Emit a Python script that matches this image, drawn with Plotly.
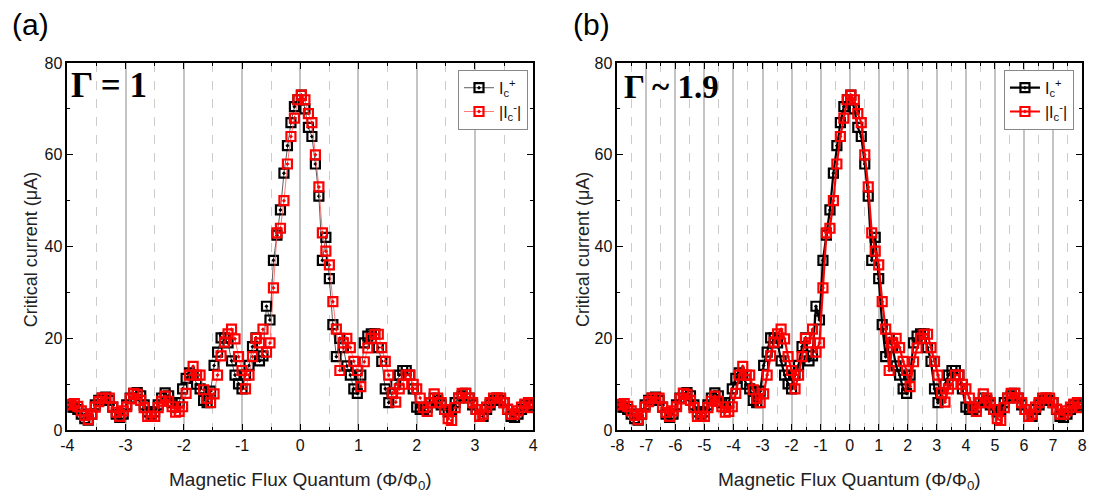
import plotly.graph_objects as go

# ---------------- data (panel a units, Phi/Phi0) ----------------
flux = [-4.00, -3.94, -3.88, -3.82, -3.76, -3.70, -3.64, -3.58, -3.52, -3.46,
        -3.40, -3.34, -3.28, -3.22, -3.16, -3.10, -3.04, -2.98, -2.92, -2.86,
        -2.80, -2.74, -2.68, -2.62, -2.56, -2.50, -2.44, -2.38, -2.32, -2.26,
        -2.20, -2.14, -2.08, -2.02, -1.96, -1.90, -1.84, -1.78, -1.72, -1.66,
        -1.60, -1.54, -1.48, -1.42, -1.36, -1.30, -1.24, -1.18, -1.12, -1.06,
        -1.00, -0.94, -0.88, -0.82, -0.76, -0.70, -0.64, -0.58, -0.52, -0.46,
        -0.40, -0.34, -0.28, -0.22, -0.16, -0.10, -0.04, 0.02, 0.08, 0.14,
        0.20, 0.26, 0.32, 0.38, 0.44, 0.50, 0.56, 0.62, 0.68, 0.74,
        0.80, 0.86, 0.92, 0.98, 1.04, 1.10, 1.16, 1.22, 1.28, 1.34,
        1.40, 1.46, 1.52, 1.58, 1.64, 1.70, 1.76, 1.82, 1.88, 1.94,
        2.00, 2.06, 2.12, 2.18, 2.24, 2.30, 2.36, 2.42, 2.48, 2.54,
        2.60, 2.66, 2.72, 2.78, 2.84, 2.90, 2.96, 3.02, 3.08, 3.14,
        3.20, 3.26, 3.32, 3.38, 3.44, 3.50, 3.56, 3.62, 3.68, 3.74,
        3.80, 3.86, 3.92, 3.98]

ic_plus = [5.0, 5.5, 5.0, 4.5, 3.5, 2.5, 2.2, 3.5, 5.5, 6.5,
           7.0, 7.2, 6.5, 5.0, 3.5, 2.8, 3.5, 5.5, 7.0, 8.0,
           8.2, 7.5, 5.5, 4.0, 3.5, 4.0, 5.5, 7.0, 8.1, 7.5,
           6.0, 5.0, 6.0, 9.0, 11.3, 12.5, 12.0, 10.0, 9.0, 6.5,
           6.0, 8.5, 14.1, 17.0, 20.1, 20.1, 19.0, 15.1, 12.0, 10.1,
           9.0, 12.0, 14.1, 18.2, 20.1, 15.1, 16.2, 27.0, 24.0, 37.0,
           42.5, 48.0, 56.0, 62.0, 67.0, 70.5, 72.0, 73.0, 70.0, 66.0,
           64.0, 58.0, 51.0, 37.0, 42.0, 33.0, 23.0, 16.0, 20.0, 18.0,
           14.0, 12.0, 9.0, 8.0, 12.0, 19.0, 20.5, 21.0, 21.0, 18.0,
           15.0, 9.0, 6.0, 8.0, 10.0, 12.0, 13.0, 13.0, 12.0, 9.0,
           5.0, 4.5, 4.5, 5.0, 6.0, 7.0, 6.5, 5.5, 4.5, 4.0,
           4.5, 6.0, 7.0, 7.5, 8.0, 7.0, 5.5, 4.5, 3.0, 3.0,
           4.5, 5.5, 6.5, 7.0, 6.5, 6.0, 4.5, 3.0, 2.8, 3.5,
           4.5, 5.5, 5.5, 5.0]

ic_minus_abs = [5.5, 5.6, 5.8, 5.2, 4.2, 3.2, 2.3, 3.5, 5.0, 6.2,
                7.0, 7.0, 7.0, 5.0, 3.9, 3.0, 4.2, 5.1, 6.8, 8.0,
                7.8, 6.5, 4.9, 3.0, 3.0, 3.0, 4.9, 6.3, 7.4, 6.3,
                5.1, 3.9, 4.1, 5.1, 8.0, 12.0, 13.9, 12.0, 12.0, 8.8,
                6.9, 6.0, 7.9, 12.0, 16.2, 19.2, 21.0, 22.0, 19.9, 16.0,
                13.0, 9.0, 12.0, 16.0, 20.0, 19.0, 22.0, 17.0, 19.0, 31.0,
                43.0, 44.0, 50.0, 58.0, 64.0, 68.0, 72.0, 73.0, 72.0, 69.0,
                67.0, 60.0, 53.0, 43.0, 39.0, 36.0, 28.0, 22.0, 13.0, 19.0,
                20.0, 18.0, 15.0, 13.0, 9.5, 14.9, 17.9, 20.0, 20.9, 20.9,
                18.0, 15.0, 12.0, 8.1, 6.1, 9.0, 10.0, 12.0, 12.0, 10.0,
                9.0, 7.0, 4.9, 4.1, 6.0, 7.9, 7.0, 6.0, 4.5, 2.5,
                2.1, 4.9, 7.0, 8.0, 8.0, 7.0, 6.0, 4.5, 3.0, 3.5,
                5.0, 6.0, 7.0, 7.0, 7.0, 6.0, 4.6, 3.5, 3.5, 4.2,
                5.0, 5.7, 6.0, 4.9]

# panel (b) uses the flux axis rescaled by the conversion factor of that geometry
FLUX_SCALE_B = 2.0
flux_b = [v * FLUX_SCALE_B for v in flux]

x_ticks_a = [-4, -3, -2, -1, 0, 1, 2, 3, 4]
x_ticks_b = list(range(-8, 9))
y_ticks = [0, 20, 40, 60, 80]

# ---------------- figure ----------------
W, H = 1095, 500
FONT = "Arial, Liberation Sans, sans-serif"
BLACK = "#000000"
RED = "#ff0000"

fig = go.Figure()

def add_pair(xs, xa, ya, legend, lw, black_line, red_line):
    fig.add_trace(go.Scatter(
        x=xs, y=ic_plus, xaxis=xa, yaxis=ya, mode="lines+markers",
        name="I<sub>c</sub><sup>+</sup>", legend=legend,
        line=dict(color=black_line, width=lw),
        marker=dict(symbol="square-open-dot", size=9, color=BLACK,
                    line=dict(width=2.2, color=BLACK))))
    fig.add_trace(go.Scatter(
        x=xs, y=ic_minus_abs, xaxis=xa, yaxis=ya, mode="lines+markers",
        name="|I<sub>c</sub><sup>-</sup>|", legend=legend,
        line=dict(color=red_line, width=lw),
        marker=dict(symbol="square-open-dot", size=9, color=RED,
                    line=dict(width=2.2, color=RED))))

add_pair(flux, "x", "y", "legend", 0.8, "#333333", "#ff5555")
add_pair(flux_b, "x2", "y2", "legend2", 2.2, BLACK, RED)

def px_x(p):
    return p / W

def px_y(p):
    return 1 - p / H

dom_y = [px_y(437), px_y(57)]

def xaxis_cfg(dom, rng, ticks, anchor):
    return dict(
        domain=dom, range=rng, anchor=anchor,
        tickmode="array", tickvals=ticks, ticktext=[str(t) for t in ticks],
        ticks="inside", ticklen=6, tickwidth=1.3, tickcolor=BLACK,
        showline=True, linecolor=BLACK, linewidth=1.5, mirror="ticks",
        showgrid=True, gridcolor="#c4c4c4", gridwidth=1.5,
        zeroline=False,
        minor=dict(dtick=0.5, tick0=rng[0], ticks="inside", ticklen=3,
                   tickcolor=BLACK, showgrid=True, griddash="dash",
                   gridcolor="#cccccc", gridwidth=1),
        tickfont=dict(family=FONT, size=16, color="#111111"),
    )

def yaxis_cfg(anchor):
    return dict(
        domain=dom_y, range=[0, 80], anchor=anchor,
        tickmode="array", tickvals=y_ticks, ticktext=[str(t) for t in y_ticks],
        ticks="inside", ticklen=6, tickwidth=1.3, tickcolor=BLACK,
        showline=True, linecolor=BLACK, linewidth=1.5, mirror="ticks",
        showgrid=False, zeroline=False,
        minor=dict(dtick=10, ticks="inside", ticklen=3, tickcolor=BLACK),
        tickfont=dict(family=FONT, size=16, color="#111111"),
    )

fig.update_layout(
    width=W, height=H,
    margin=dict(l=0, r=0, t=0, b=0),
    paper_bgcolor="white", plot_bgcolor="white",
    font=dict(family=FONT, color="#222222"),
    xaxis=xaxis_cfg([px_x(61), px_x(532)], [-4, 4], x_ticks_a, "y"),
    yaxis=yaxis_cfg("x"),
    xaxis2=xaxis_cfg([px_x(617), px_x(1087)], [-8, 8], x_ticks_b, "y2"),
    yaxis2=yaxis_cfg("x2"),
    legend=dict(x=px_x(456), y=px_y(64), xanchor="left", yanchor="top",
                bgcolor="white", bordercolor="#888888", borderwidth=1,
                font=dict(family=FONT, size=16, color="#111111"),
                itemwidth=30, tracegroupgap=4),
    legend2=dict(x=px_x(1008), y=px_y(64), xanchor="left", yanchor="top",
                 bgcolor="white", bordercolor="#888888", borderwidth=1,
                 font=dict(family=FONT, size=16, color="#111111"),
                 itemwidth=30, tracegroupgap=4),
    showlegend=True,
)

ann = []
# panel labels
ann.append(dict(text="(a)", x=px_x(3), y=px_y(-2), xref="paper", yref="paper",
                xanchor="left", yanchor="top", showarrow=False,
                font=dict(family=FONT, size=30, color=BLACK)))
ann.append(dict(text="(b)", x=px_x(570), y=px_y(-2), xref="paper", yref="paper",
                xanchor="left", yanchor="top", showarrow=False,
                font=dict(family=FONT, size=30, color=BLACK)))
# Gamma labels
SERIF = "Times New Roman, Liberation Serif, serif"
ann.append(dict(text="<b>Γ = 1</b>", x=px_x(63), y=px_y(80), xref="paper", yref="paper",
                xanchor="left", yanchor="middle", showarrow=False,
                font=dict(family=SERIF, size=35, color=BLACK)))
ann.append(dict(text="<b>Γ ~ 1.9</b>", x=px_x(622), y=px_y(82), xref="paper", yref="paper",
                xanchor="left", yanchor="middle", showarrow=False,
                font=dict(family=SERIF, size=33, color=BLACK)))
# axis titles
for cx in (297, 852):
    ann.append(dict(text="Magnetic Flux Quantum (Φ/Φ<sub>0</sub>)", x=px_x(cx), y=px_y(490),
                    xref="paper", yref="paper", xanchor="center", yanchor="middle",
                    showarrow=False, font=dict(family=FONT, size=19, color="#222222")))
for cx in (24, 582):
    ann.append(dict(text="Critical current (μA)", x=px_x(cx), y=px_y(250),
                    xref="paper", yref="paper", xanchor="center", yanchor="middle",
                    textangle=-90, showarrow=False,
                    font=dict(family=FONT, size=18, color="#222222")))
fig.update_layout(annotations=ann)

fig.write_html("out.html")
